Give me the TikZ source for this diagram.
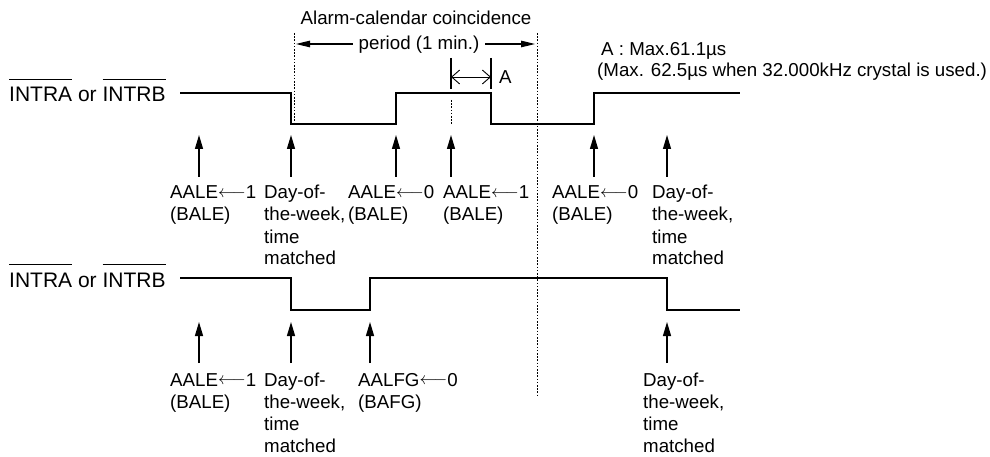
\documentclass[tikz,border=0pt]{standalone}
\usepackage{fontspec}
\setmainfont{Liberation Sans}
\usetikzlibrary{arrows.meta}
\newcommand\fs{\fontsize{18.7}{22}\selectfont}
\newcommand\fsbig{\fontsize{21}{24}\selectfont}
\newcommand\ovl[1]{\setbox0\hbox{#1}\rlap{\rule[22pt]{\wd0}{1.2pt}}\box0\relax}
\newcommand\lines[1]{\begin{tabular}[t]{@{}l@{}}#1\end{tabular}}
\newcommand\la{\raisebox{1.2pt}{$\longleftarrow$}}
\begin{document}
\begin{tikzpicture}[x=1pt,y=-1pt,
  wave/.style={line width=2.7pt, line join=miter},
  vdot/.style={line width=0.9pt, dash pattern=on 1.6pt off 1.6pt},
  uparrow/.style={line width=1.3pt, -{Triangle[length=14pt,width=8pt]}},
  parrow/.style={line width=1.2pt, -{Triangle[length=14pt,width=6.5pt]}},
  dimarrow/.style={line width=0.9pt, {Straight Barb[length=8pt,width=14pt]}-{Straight Barb[length=8pt,width=14pt]}},
  tick/.style={line width=1.1pt},
  lbl/.style={anchor=base west, inner sep=0pt, font=\fs},
  sig/.style={anchor=base west, inner sep=0pt, font=\fsbig},
]
\useasboundingbox (0,0) rectangle (990,457);

% ---------- header ----------
\node[lbl, anchor=base] (hdr1) at (416,25) {Alarm-calendar coincidence};
\node[lbl, anchor=base] (hdr2) at (419,50) {period (1 min.)};
\coordinate (pl) at (296,44);
\coordinate (pr) at (535,44);
\draw[parrow] (hdr2.west |- pl) ++(-6,0) coordinate (pls) -- (pl);
\draw[parrow] (hdr2.east |- pr) ++(6,0) coordinate (prs) -- (pr);

\node[lbl] (noteA) at (601,56) {A : Max.61.1µs};
\node[lbl] (noteB) at (597,77) {(Max. 62.5µs when 32.000kHz crystal is used.)};

% ---------- A marker ----------
\coordinate (ta1) at (451,58); \coordinate (tb1) at (451,89);
\coordinate (ta2) at (491,58); \coordinate (tb2) at (491,89);
\draw[tick] (ta1) -- (tb1);
\draw[tick] (ta2) -- (tb2);
\draw[dimarrow] (451,77) coordinate (da) -- (491,77) coordinate (db);
\node[lbl] (Alab) at (499,84) {A};

% ---------- dotted lines ----------
\draw[vdot] (294,33) coordinate (d1t) -- (294,124) coordinate (d1b);
\draw[vdot] (537,33) coordinate (d2t) -- (537,395) coordinate (d2b);
\draw[vdot] (451,100) coordinate (d3t) -- (451,124) coordinate (d3b);

% ---------- top waveform ----------
\node[sig] (sigA) at (9,102) {\ovl{INTRA} or \ovl{INTRB}};
\draw[wave] (180,93) -- (291,93) -- (291,124) -- (396,124) -- (396,93)
  -- (491,93) -- (491,124) -- (594,124) -- (594,93) -- (740,93);

\foreach \n/\x in {1/199,2/291,3/396,4/451,5/594,6/667}{
  \coordinate (ut\n) at (\x,135);
  \coordinate (ub\n) at (\x,177);
  \draw[uparrow] (ub\n) -- (ut\n);
}
\node[lbl] (t1) at (170,199) {\lines{AALE\la1\\(BALE)}};
\node[lbl] (t2) at (264,199) {\lines{Day-of-\\the-week,\\time\\matched}};
\node[lbl] (t3) at (348,199) {\lines{AALE\la0\\(BALE)}};
\node[lbl] (t4) at (443,199) {\lines{AALE\la1\\(BALE)}};
\node[lbl] (t5) at (552,199) {\lines{AALE\la0\\(BALE)}};
\node[lbl] (t6) at (652,199) {\lines{Day-of-\\the-week,\\time\\matched}};

% ---------- bottom waveform ----------
\node[sig] (sigB) at (9,287) {\ovl{INTRA} or \ovl{INTRB}};
\draw[wave] (180,278) -- (291,278) -- (291,310) -- (370,310) -- (370,278)
  -- (667,278) -- (667,310) -- (740,310);

\foreach \n/\x in {1/199,2/291,3/370,4/667}{
  \coordinate (vt\n) at (\x,322);
  \coordinate (vb\n) at (\x,363);
  \draw[uparrow] (vb\n) -- (vt\n);
}
\node[lbl] (b1) at (170,386) {\lines{AALE\la1\\(BALE)}};
\node[lbl] (b2) at (264,386) {\lines{Day-of-\\the-week,\\time\\matched}};
\node[lbl] (b3) at (358,386) {\lines{AALFG\la0\\(BAFG)}};
\node[lbl] (b4) at (643,386) {\lines{Day-of-\\the-week,\\time\\matched}};
\end{tikzpicture}
\end{document}
